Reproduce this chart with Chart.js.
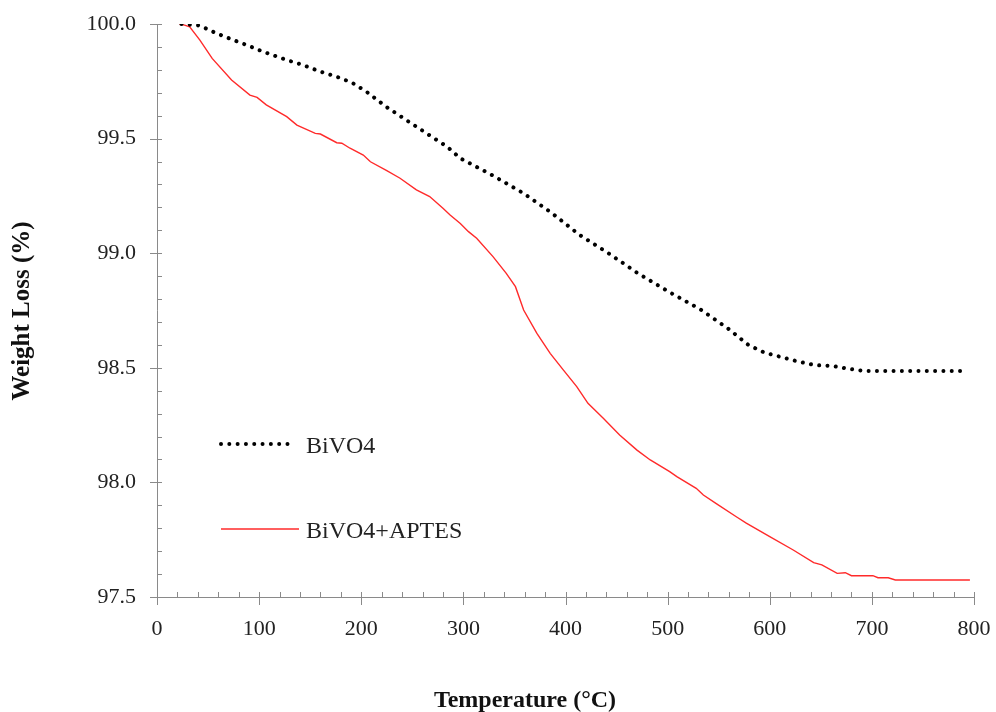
<!DOCTYPE html>
<html>
<head>
<meta charset="utf-8">
<script src="https://cdn.jsdelivr.net/npm/chart.js@4"></script>
<style>
html,body{margin:0;padding:0;background:#fff;}
#wrap{width:996px;height:712px;}
</style>
</head>
<body>
<div id="wrap"><canvas id="c" width="996" height="712"></canvas></div>
<script>
// ---- data ----
const seriesLabels = ['BiVO4', 'BiVO4+APTES'];
const xTitle = 'Temperature (\u00B0C)';
const yTitle = 'Weight Loss (%)';

const bivo4Temp = [24,42,58,73,88,104,127,143,160,176,191,205,226,241,254,269,284,297,328,359,387,414,442,471,501,532,559,579,595,612,628,644,661,677,693,740,788];
const bivo4Weight = [100.0,99.993,99.96,99.933,99.908,99.879,99.843,99.821,99.792,99.77,99.744,99.705,99.634,99.59,99.552,99.508,99.465,99.414,99.341,99.261,99.174,99.079,99.0,98.912,98.832,98.755,98.672,98.6,98.566,98.546,98.527,98.512,98.508,98.496,98.486,98.486,98.486];

const aptesTemp = [22,27,32,42,54,73,91,98,107,127,137,155,160,176,181,189,202,209,225,238,254,267,280,287,297,305,313,329,342,351,359,372,385,398,411,422,437,453,470,483,502,509,528,535,548,568,577,600,623,643,651,666,674,680,701,706,716,723,796];
const aptesWeight = [100.0,99.995,99.988,99.93,99.85,99.756,99.69,99.68,99.647,99.596,99.559,99.523,99.52,99.482,99.48,99.458,99.428,99.399,99.36,99.327,99.276,99.247,99.196,99.167,99.13,99.094,99.065,98.985,98.912,98.854,98.752,98.65,98.563,98.49,98.418,98.345,98.28,98.207,98.141,98.098,98.047,98.025,97.974,97.945,97.906,97.848,97.822,97.763,97.705,97.65,97.64,97.603,97.606,97.593,97.593,97.584,97.584,97.574,97.574];

const xTicks = [0,100,200,300,400,500,600,700,800];
const yTicks = [97.5,98.0,98.5,99.0,99.5,100.0];

const toPts = (xs, ys) => xs.map((x, i) => ({x: x, y: ys[i]}));

const AXIS_COLOR = '#8a8a8a';
const TEXT_COLOR = '#222';
const SERIF = '"Liberation Serif", "Times New Roman", serif';

const axesPlugin = {
  id: 'customAxes',
  afterDraw(chart) {
    const ctx = chart.ctx;
    const xs = chart.scales.x, ys = chart.scales.y;
    const x0 = xs.getPixelForValue(xs.min), x1 = xs.getPixelForValue(xs.max);
    const y0 = ys.getPixelForValue(ys.min), y1 = ys.getPixelForValue(ys.max);
    ctx.save();
    ctx.strokeStyle = AXIS_COLOR;
    ctx.lineWidth = 1;
    ctx.beginPath();
    // axis lines
    ctx.moveTo(Math.round(x0) + 0.5, y1);
    ctx.lineTo(Math.round(x0) + 0.5, Math.round(y0) + 0.5);
    ctx.lineTo(x1, Math.round(y0) + 0.5);
    // y ticks
    for (let v = 0; v <= 25; v++) {
      const val = ys.min + v * 0.1;
      const py = Math.round(ys.getPixelForValue(val)) + 0.5;
      const major = v % 5 === 0;
      ctx.moveTo(x0 - (major ? 7 : 0), py);
      ctx.lineTo(x0 + 5, py);
    }
    // x ticks
    for (let v = 0; v <= 40; v++) {
      const val = xs.min + v * 20;
      const px = Math.round(xs.getPixelForValue(val)) + 0.5;
      const major = v % 5 === 0;
      ctx.moveTo(px, y0 - 5);
      ctx.lineTo(px, y0 + (major ? 8 : 0));
    }
    ctx.stroke();

    // axis titles
    ctx.fillStyle = '#111';
    ctx.textAlign = 'center';
    ctx.textBaseline = 'alphabetic';
    ctx.font = 'bold 24px ' + SERIF;
    ctx.fillText(xTitle, 525, 707);
    ctx.save();
    ctx.translate(29, 311);
    ctx.rotate(-Math.PI / 2);
    ctx.font = 'bold 25px ' + SERIF;
    ctx.fillText(yTitle, 0, 0);
    ctx.restore();

    // legend
    const ds = chart.data.datasets;
    const rows = [444, 529];
    ds.forEach((d, i) => {
      const ly = rows[i];
      ctx.save();
      ctx.strokeStyle = d.borderColor;
      ctx.lineWidth = d.borderWidth;
      ctx.lineCap = d.borderCapStyle || 'butt';
      ctx.setLineDash(d.borderDash || []);
      ctx.beginPath();
      ctx.moveTo(221, ly);
      ctx.lineTo(i === 0 ? 293 : 299, ly);
      ctx.stroke();
      ctx.restore();
      ctx.fillStyle = TEXT_COLOR;
      ctx.font = '24px ' + SERIF;
      ctx.textAlign = 'left';
      ctx.textBaseline = 'alphabetic';
      ctx.fillText(d.label, 306, ly + 8.5);
    });
    ctx.restore();
  }
};

new Chart(document.getElementById('c'), {
  type: 'line',
  data: {
    datasets: [
      {
        label: seriesLabels[0],
        data: toPts(bivo4Temp, bivo4Weight),
        borderColor: '#000',
        borderWidth: 4,
        borderDash: [0.01, 8.3],
        borderCapStyle: 'round',
        pointRadius: 0,
        tension: 0,
        fill: false
      },
      {
        label: seriesLabels[1],
        data: toPts(aptesTemp, aptesWeight),
        borderColor: '#ff2a2a',
        borderWidth: 1.4,
        pointRadius: 0,
        tension: 0,
        fill: false
      }
    ]
  },
  options: {
    responsive: false,
    animation: false,
    devicePixelRatio: 1,
    layout: { padding: { left: 0, top: 24, right: 22, bottom: 0 } },
    plugins: {
      legend: { display: false },
      tooltip: { enabled: false },
      title: { display: false }
    },
    scales: {
      x: {
        type: 'linear',
        min: 0, max: 800,
        afterBuildTicks: (s) => { s.ticks = xTicks.map(v => ({value: v})); },
        afterFit: (s) => { s.height = 115; s.paddingLeft = 0; s.paddingRight = 0; },
        grid: { display: false, drawTicks: false },
        border: { display: false },
        ticks: {
          padding: 19,
          color: TEXT_COLOR,
          font: { family: SERIF, size: 22 },
          maxRotation: 0,
          callback: (v) => String(v)
        }
      },
      y: {
        type: 'linear',
        min: 97.5, max: 100,
        afterBuildTicks: (s) => { s.ticks = yTicks.map(v => ({value: v})); },
        afterFit: (s) => { s.width = 157; s.paddingTop = 0; s.paddingBottom = 0; },
        grid: { display: false, drawTicks: false },
        border: { display: false },
        ticks: {
          padding: 21,
          color: TEXT_COLOR,
          font: { family: SERIF, size: 22 },
          callback: (v) => Number(v).toFixed(1)
        }
      }
    }
  },
  plugins: [axesPlugin]
});
</script>
</body>
</html>
